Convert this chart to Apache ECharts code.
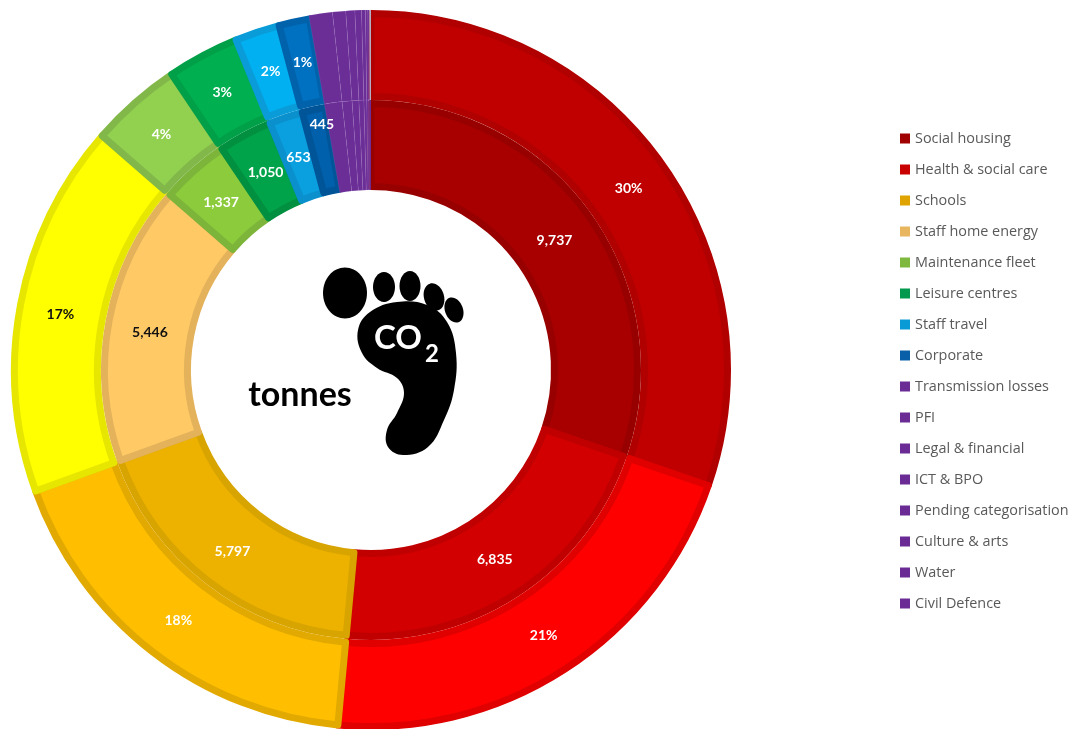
<!DOCTYPE html>
<html><head><meta charset="utf-8">
<style>html,body{margin:0;padding:0;background:#fff}#c{width:1077px;height:729px}</style>
<script src="https://cdn.jsdelivr.net/npm/echarts@6/dist/echarts.min.js"></script>
</head><body><div id="c"></div>
<script>
const categories = ['Social housing','Health & social care','Schools','Staff home energy','Maintenance fleet','Leisure centres','Staff travel','Corporate','Transmission losses','PFI','Legal & financial','ICT & BPO','Pending categorisation','Culture & arts','Water','Civil Defence'];
const tonnes = [9737,6835,5797,5446,1337,1050,653,445,340,190,130,95,55,35,20,25];
const innerFill = ['#a80000','#d20000','#edb200','#ffc966','#8ccc3c','#00a349','#0aa0e0','#0060ac','#6b2d96','#6b2d96','#6b2d96','#6b2d96','#6b2d96','#6b2d96','#6b2d96','#6b2d96'];
const innerEdge = ['#980000','#c00000','#d8a400','#e3b25a','#7cb53a','#009040','#0a90cc','#005598'];
const outerFill = ['#c00000','#ff0000','#ffbf00','#ffff00','#92d050','#00b050','#00b0f0','#0070c0','#6b2d96','#6b2d96','#6b2d96','#6b2d96','#6b2d96','#6b2d96','#6b2d96','#b4aec4'];
const outerEdge = ['#b00000','#e00000','#e2aa00','#e6e600','#82b84a','#00a049','#0a9cd8','#0062aa'];
const legendColors = ['#a00000','#c80000','#dfa400','#e8b65e','#7fb83e','#00994d','#0a9bd6','#0a60a8','#6a2c94','#6a2c94','#6a2c94','#6a2c94','#6a2c94','#6a2c94','#6a2c94','#6a2c94'];
const darkLabels = ['Staff home energy'];

const CENTER = [371, 370], EDGE = 7;
const nEdged = innerEdge.length;
const chart = echarts.init(document.getElementById('c'), null, {renderer:'canvas'});

const base = {type:'pie', center:CENTER, startAngle:90, clockwise:true, animation:false, silent:true, avoidLabelOverlap:false, labelLine:{show:false}};
function ring(fill, edge, radius){
  return {...base, radius, label:{show:false},
    data:categories.map((c,i)=>({
      name:c, value:tonnes[i],
      itemStyle: i<nEdged ? {color:fill[i], borderColor:edge[i], borderWidth:EDGE} : {color:'transparent', borderWidth:0}
    }))
  };
}
function overlay(fill, radius){
  return {...base, radius, z:3, label:{show:false},
    data:categories.map((c,i)=>({
      name:c, value:tonnes[i],
      itemStyle: i<nEdged ? {color:'transparent', borderWidth:0} : {color:fill[i], borderWidth:i<categories.length-1?0.5:0, borderColor:'rgba(190,160,215,0.22)'}
    }))
  };
}
function labels(radius, fmt, offsets){
  return {...base, radius, z:4,
    label:{show:true, position:'inside', fontFamily:'Lato', fontSize:14, fontWeight:'bold', color:'#fff', formatter:fmt},
    data:categories.map((c,i)=>({
      name:c, value:tonnes[i],
      itemStyle:{color:'transparent', borderWidth:0},
      label:{show:i<nEdged, color:darkLabels.includes(c)?'#111':'#fff', offset:offsets[c]||[0,0]}
    }))
  };
}
chart.setOption({
  backgroundColor:'#fff',
  legend:{
    orient:'vertical', left:900, top:131, padding:0, itemWidth:10, itemHeight:10, itemGap:16, icon:'rect', selectedMode:false,
    textStyle:{fontFamily:'Open Sans', fontSize:14.4, color:'#595959', lineHeight:15},
    data:categories.map((c,i)=>({name:c, itemStyle:{color:legendColors[i], borderWidth:0}}))
  },
  series:[
    ring(innerFill, innerEdge, [180+EDGE/2, 270-EDGE/2]),
    ring(outerFill, outerEdge, [270+EDGE/2, 360-EDGE/2]),
    overlay(innerFill,[180,270]),
    overlay(outerFill,[270,360]),
    labels([180,270], p=>p.value.toLocaleString('en-US'),
      {'Social housing':[-2,3],'Health & social care':[0,-2],'Schools':[1,1],'Staff home energy':[3,4],'Maintenance fleet':[1,3],'Leisure centres':[2,4],'Staff travel':[0,4],'Corporate':[0,-23]}),
    labels([270,360], p=>Math.round(p.percent)+'%',
      {'Social housing':[-1,3],'Health & social care':[0,-2],'Schools':[2,-1],'Staff home energy':[2,3],'Maintenance fleet':[1,3],'Leisure centres':[1,3],'Staff travel':[1,3],'Corporate':[0,3]})
  ],
  graphic:[
    {type:'ellipse', shape:{cx:345,cy:293,rx:22,ry:25.5}, style:{fill:'#000'}, z:10},
    {type:'ellipse', shape:{cx:384,cy:287,rx:11,ry:15}, style:{fill:'#000'}, z:10},
    {type:'ellipse', shape:{cx:410,cy:286,rx:10.5,ry:15}, style:{fill:'#000'}, z:10},
    {type:'ellipse', shape:{cx:0,cy:0,rx:10,ry:14}, x:434, y:297, rotation:0.3, style:{fill:'#000'}, z:10},
    {type:'ellipse', shape:{cx:0,cy:0,rx:9,ry:13}, x:454, y:310, rotation:0.35, style:{fill:'#000'}, z:10},
    {type:'polygon', shape:{smooth:0.4, points:[[397,302],[427,305],[447,322],[456,353],[454,390],[444,420],[428,447],[403,455],[388,447],[387,430],[397,413],[404,393],[397,378],[377,368],[362,353],[358,330],[370,312]]}, style:{fill:'#000'}, z:10},
    {type:'text', x:398, y:338, style:{text:'CO', fill:'#fff', font:'bold 33px Lato', align:'center', verticalAlign:'middle'}, z:11},
    {type:'text', x:432, y:354, style:{text:'2', fill:'#fff', font:'bold 24px Lato', align:'center', verticalAlign:'middle'}, z:11},
    {type:'text', x:300, y:395, style:{text:'tonnes', fill:'#000', font:'bold 34px Lato', align:'center', verticalAlign:'middle'}, z:11}
  ]
});
</script></body></html>
